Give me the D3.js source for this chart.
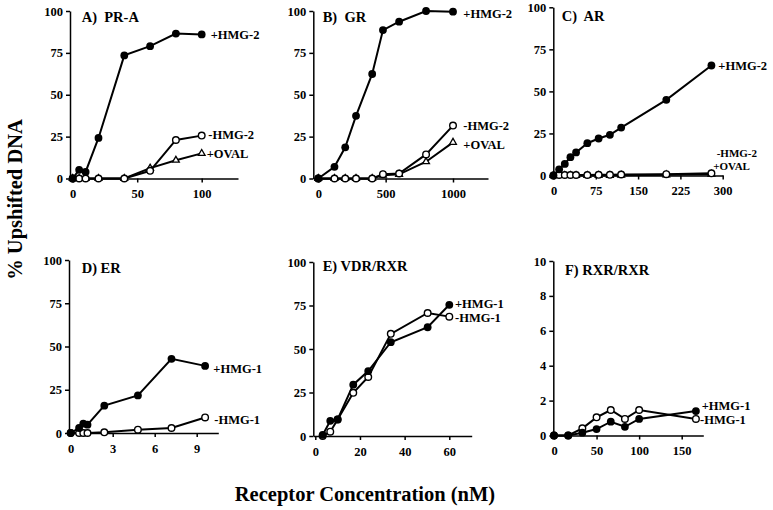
<!DOCTYPE html>
<html><head><meta charset="utf-8">
<script src="https://cdn.jsdelivr.net/npm/d3@7/dist/d3.min.js"></script>
<style>
html,body{margin:0;padding:0;background:#fff;}
svg{display:block;}
text{font-family:"Liberation Serif","Times New Roman",serif;font-weight:bold;fill:#000;}
</style></head><body>
<svg id="chart" width="773" height="510"></svg>
<script>
// ---------------- data ----------------
const prAConc      = [0, 5, 10, 20, 40, 60, 80, 100];
const prAPlusHMG2  = [0, 5.2, 3.9, 24.2, 73.5, 79, 86.5, 86];
const prAMinusHMG2 = [0, 0, 0, 0, 0, 4.6, 23, 25.6];
const prAPlusOVAL  = [0, 0, 0, 0, 0, 6.2, 10.9, 15];

const grConc      = [0, 120, 200, 280, 400, 480, 600, 800, 1000];
const grPlusHMG2  = [0, 7, 18.6, 37.4, 62.4, 88.6, 93.6, 100, 99.6];
const grMinusHMG2 = [0, 0, 0, 0, 0, 2.6, 3, 14.4, 31.6];
const grPlusOVAL  = [0, 0, 0, 0, 0, 2, 2.5, 10, 21.6];

const arConc      = [0, 10, 20, 30, 40, 60, 80, 100, 120, 200, 280];
const arPlusHMG2  = [0, 3.7, 6.9, 10.9, 13.7, 19.2, 22, 24.2, 28.5, 45, 65.4];
const arMinusHMG2 = [0, 0.3, 0.3, 0.3, 0.3, 0.3, 0.4, 0.4, 0.6, 0.8, 1.3];
const arPlusOVAL  = [0, 0, 0, 0, 0, 0, 0, 0, 0.2, 0.4, 0.8];

const erConc      = [0, 0.6, 0.9, 1.2, 2.4, 4.8, 7.2, 9.6];
const erPlusHMG1  = [0, 2.9, 5.4, 4.8, 15.8, 21.7, 42.9, 38.8];
const erMinusHMG1 = [0, 0, 0, 0, 0.4, 1.9, 2.9, 9];

const vdrConc      = [3.3, 6.7, 10, 17, 23.7, 33.8, 50.3, 60];
const vdrPlusHMG1  = [0.6, 8.7, 9.5, 29.5, 37.3, 53.9, 62.5, 75.4];
const vdrMinusHMG1 = [0, 2.5, 9.5, 24.8, 33.9, 58.7, 70.7, 68.6];

const rxrConc      = [0, 16.7, 33.3, 50, 66.7, 83.3, 100, 166.7];
const rxrPlusHMG1  = [0, 0, 0.16, 0.37, 0.79, 0.5, 0.95, 1.4];
const rxrMinusHMG1 = [0, 0, 0.41, 1.04, 1.46, 0.95, 1.46, 0.95];

const pctTicks    = [0, 25, 50, 75, 100];
const rxrPctTicks = [0, 2, 4, 6, 8, 10];
const prATicks  = [0, 50, 100];
const grTicks   = [0, 500, 1000];
const arTicks   = [0, 75, 150, 225, 300];
const erTicks   = [0, 3, 6, 9];
const vdrTicks  = [0, 20, 40, 60];
const rxrTicks  = [0, 50, 100, 150];

const panelTitles = ["A)  PR-A", "B)  GR", "C)  AR", "D) ER", "E) VDR/RXR", "F) RXR/RXR"];
const yTitle = "% Upshifted DNA";
const xTitle = "Receptor Concentration (nM)";

// ---------------- layout ----------------
const panels = [
  { title: panelTitles[0], titlePos: [81.7, 16.7],
    xv: [0, 100], xp: [72.7, 201.7], xAxis: [70, 238], yv: [0, 100], yp: [178.5, 11],
    xTicks: prATicks, yTicks: pctTicks,
    series: [
      { name: "+OVAL",  x: prAConc, y: prAPlusOVAL,  marker: "tri",  label: [206.7, 153.3] },
      { name: "-HMG-2", x: prAConc, y: prAMinusHMG2, marker: "open", label: [208.3, 135] },
      { name: "+HMG-2", x: prAConc, y: prAPlusHMG2,  marker: "fill", label: [210.7, 34.3] } ] },
  { title: panelTitles[1], titlePos: [322.7, 16.7],
    xv: [0, 1000], xp: [318.3, 453], xAxis: [313.3, 488], yv: [0, 100], yp: [178.5, 11],
    xTicks: grTicks, yTicks: pctTicks,
    series: [
      { name: "+OVAL",  x: grConc, y: grPlusOVAL,  marker: "tri",  label: [463.3, 144.3] },
      { name: "-HMG-2", x: grConc, y: grMinusHMG2, marker: "open", label: [463.3, 125.7] },
      { name: "+HMG-2", x: grConc, y: grPlusHMG2,  marker: "fill", label: [463.3, 13.3] } ] },
  { title: panelTitles[2], titlePos: [561.7, 16],
    xv: [0, 300], xp: [553.5, 722.7], xAxis: [553.3, 723], yv: [0, 100], yp: [175.5, 7.3],
    xTicks: arTicks, yTicks: pctTicks,
    series: [
      { name: "+OVAL",  x: arConc, y: arPlusOVAL,  marker: "tri",  label: [713.3, 166.5], fs: 11 },
      { name: "-HMG-2", x: arConc, y: arMinusHMG2, marker: "open", label: [716.7, 153.5], fs: 11 },
      { name: "+HMG-2", x: arConc, y: arPlusHMG2,  marker: "fill", label: [718.3, 65.7] } ] },
  { title: panelTitles[3], titlePos: [81.7, 268.3],
    xv: [0, 9], xp: [70.7, 196.7], xAxis: [69, 218.3], yv: [0, 100], yp: [433, 260],
    xTicks: erTicks, yTicks: pctTicks,
    series: [
      { name: "-HMG-1", x: erConc, y: erMinusHMG1, marker: "open", label: [214.3, 420] },
      { name: "+HMG-1", x: erConc, y: erPlusHMG1,  marker: "fill", label: [213.3, 369] } ] },
  { title: panelTitles[4], titlePos: [322.7, 266],
    xv: [0, 60], xp: [315.3, 449.3], xAxis: [313.3, 471.7], yv: [0, 100], yp: [436, 262],
    xTicks: vdrTicks, yTicks: pctTicks,
    series: [
      { name: "-HMG-1", x: vdrConc, y: vdrMinusHMG1, marker: "open", label: [455, 317.3] },
      { name: "+HMG-1", x: vdrConc, y: vdrPlusHMG1,  marker: "fill", label: [455, 304] } ] },
  { title: panelTitles[5], titlePos: [565, 270],
    xv: [0, 150], xp: [554, 681.7], xAxis: [553.3, 703.3], yv: [0, 10], yp: [435.5, 261],
    xTicks: rxrTicks, yTicks: rxrPctTicks,
    series: [
      { name: "-HMG-1", x: rxrConc, y: rxrMinusHMG1, marker: "open", label: [700, 420] },
      { name: "+HMG-1", x: rxrConc, y: rxrPlusHMG1,  marker: "fill", label: [701.7, 405.7] } ] }
];

const svg = d3.select("#chart");
const fmt = d3.format("d");

panels.forEach(p => {
  const base = d3.scaleLinear().domain(p.xv).range(p.xp);
  const x = d3.scaleLinear()
    .domain([base.invert(p.xAxis[0]), base.invert(p.xAxis[1])])
    .range(p.xAxis);
  const y = d3.scaleLinear().domain(p.yv).range(p.yp);
  const g = svg.append("g");

  const xa = g.append("g").attr("transform", `translate(0,${p.yp[0]})`)
    .call(d3.axisBottom(x).tickValues(p.xTicks).tickFormat(fmt).tickSize(4).tickSizeOuter(0).tickPadding(7));
  const ya = g.append("g").attr("transform", `translate(${p.xAxis[0]},0)`)
    .call(d3.axisLeft(y).tickValues(p.yTicks).tickFormat(fmt).tickSize(4).tickSizeOuter(0).tickPadding(3));
  [xa, ya].forEach(a => {
    a.selectAll("path,line").attr("stroke", "#000").attr("stroke-width", 1.5);
    a.selectAll("text").attr("font-family", '"Liberation Serif", serif')
      .attr("font-weight", "bold").attr("font-size", 12.5).attr("fill", "#000");
  });

  g.append("text").attr("x", p.titlePos[0]).attr("y", p.titlePos[1]).attr("dy", "0.35em")
    .attr("font-size", 14.5).style("white-space", "pre").text(p.title);

  const line = d3.line().x(d => x(d[0])).y(d => y(d[1]));
  p.series.forEach(s => {
    const pts = s.x.map((v, i) => [v, s.y[i]]);
    g.append("path").datum(pts).attr("d", line)
      .attr("fill", "none").attr("stroke", "#000").attr("stroke-width", 2);
  });
  p.series.forEach(s => {
    const pts = s.x.map((v, i) => [v, s.y[i]]);
    if (s.marker === "fill") {
      g.selectAll(null).data(pts).enter().append("circle")
        .attr("cx", d => x(d[0])).attr("cy", d => y(d[1])).attr("r", 3.9).attr("fill", "#000");
    } else if (s.marker === "open") {
      g.selectAll(null).data(pts).enter().append("circle")
        .attr("cx", d => x(d[0])).attr("cy", d => y(d[1])).attr("r", 3.3)
        .attr("fill", "#fff").attr("stroke", "#000").attr("stroke-width", 1.4);
    } else {
      const tri = d3.symbol().type(d3.symbolTriangle).size(20);
      g.selectAll(null).data(pts).enter().append("path")
        .attr("d", tri).attr("transform", d => `translate(${x(d[0])},${y(d[1])})`)
        .attr("fill", "#fff").attr("stroke", "#000").attr("stroke-width", 1.3);
    }
    g.append("text").attr("x", s.label[0]).attr("y", s.label[1]).attr("dy", "0.35em")
      .attr("font-size", s.fs || 12.5).text(s.name);
  });
});

svg.append("text")
  .attr("transform", "translate(22,199.5) rotate(-90)")
  .attr("text-anchor", "middle")
  .attr("font-size", 20.5).text(yTitle);

svg.append("text").attr("x", 365).attr("y", 501).attr("text-anchor", "middle")
  .attr("font-size", 20.5).text(xTitle);
</script>
</body></html>
